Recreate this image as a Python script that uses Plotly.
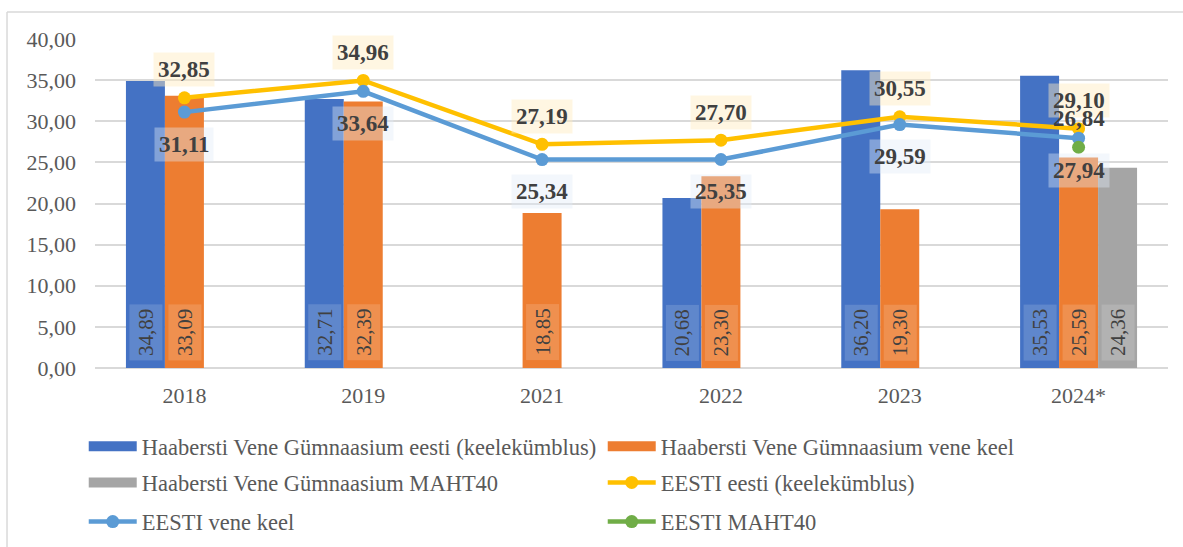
import plotly.graph_objects as go

categories = ["2018", "2019", "2021", "2022", "2023", "2024*"]
hvg_eesti = [34.89, 32.71, None, 20.68, 36.20, 35.53]
hvg_vene = [33.09, 32.39, 18.85, 23.30, 19.30, 25.59]
hvg_maht40 = [None, None, None, None, None, 24.36]
eesti_eesti = [32.85, 34.96, 27.19, 27.70, 30.55, 29.10]
eesti_vene = [31.11, 33.64, 25.34, 25.35, 29.59, 27.94]
eesti_maht40 = [None, None, None, None, None, 26.84]

names = [
    "Haabersti Vene Gümnaasium eesti (keelekümblus)",
    "Haabersti Vene Gümnaasium vene keel",
    "Haabersti Vene Gümnaasium MAHT40",
    "EESTI eesti (keelekümblus)",
    "EESTI vene keel",
    "EESTI MAHT40",
]

C_BLUE = "#4472C4"
C_ORANGE = "#ED7D31"
C_GRAY = "#A5A5A5"
C_YELLOW = "#FFC000"
C_LBLUE = "#5B9BD5"
C_GREEN = "#70AD47"

FONT = "Liberation Serif, Times New Roman, serif"
TXT = "#595959"
LBL = "#404040"


def fmt(v):
    return f"{v:.2f}".replace(".", ",")


fig = go.Figure()

bar_series = [
    (hvg_eesti, names[0], C_BLUE),
    (hvg_vene, names[1], C_ORANGE),
    (hvg_maht40, names[2], C_GRAY),
]
for vals, nm, col in bar_series:
    fig.add_trace(go.Bar(x=categories, y=vals, name=nm, marker=dict(color=col, line=dict(width=0)),
                         showlegend=False, hoverinfo="y"))

line_series = [
    (eesti_eesti, names[3], C_YELLOW),
    (eesti_vene, names[4], C_LBLUE),
    (eesti_maht40, names[5], C_GREEN),
]
for vals, nm, col in line_series:
    fig.add_trace(go.Scatter(x=categories, y=vals, name=nm, mode="lines+markers",
                             line=dict(color=col, width=4.5), marker=dict(color=col, size=13),
                             showlegend=False, cliponaxis=False))

# legend proxies (bars shown as wide rectangles, lines with a marker), one legend per row
legend_items = [
    (names[0], C_BLUE, "legend", False),
    (names[1], C_ORANGE, "legend", False),
    (names[2], C_GRAY, "legend2", False),
    (names[3], C_YELLOW, "legend2", True),
    (names[4], C_LBLUE, "legend3", True),
    (names[5], C_GREEN, "legend3", True),
]
for nm, col, lg, is_line in legend_items:
    if is_line:
        fig.add_trace(go.Scatter(x=[categories[0]], y=[None], name=nm, mode="lines+markers",
                                 line=dict(color=col, width=4.5), marker=dict(color=col, size=13),
                                 legend=lg, hoverinfo="skip"))
    else:
        fig.add_trace(go.Scatter(x=[categories[0]], y=[None], name=nm, mode="lines",
                                 line=dict(color=col, width=12), legend=lg, hoverinfo="skip"))

annotations = []
# bar value labels (rotated, at base of bars); x is the category index
for vals, shift in [(hvg_eesti, -39), (hvg_vene, 0), (hvg_maht40, 39)]:
    for i, v in enumerate(vals):
        if v is None:
            continue
        annotations.append(dict(x=i, y=0, xref="x", yref="y", text=fmt(v), showarrow=False,
                                textangle=-90, xshift=shift, yanchor="bottom", yshift=7,
                                font=dict(family=FONT, size=21, color=LBL),
                                bgcolor="rgba(255,255,255,0.15)", borderpad=4))

# line value labels
for vals, shift, bg in [(eesti_eesti, 28, "rgba(255,236,190,0.45)"),
                        (eesti_vene, -32, "rgba(225,234,248,0.4)"),
                        (eesti_maht40, 29, "rgba(0,0,0,0)")]:
    for i, v in enumerate(vals):
        if v is None:
            continue
        annotations.append(dict(x=i, y=v, xref="x", yref="y", text=f"<b>{fmt(v)}</b>", showarrow=False,
                                yshift=shift, font=dict(family=FONT, size=23, color=LBL),
                                bgcolor=bg, borderpad=4))

legend_common = dict(orientation="h", xanchor="left", yanchor="middle", entrywidth=456,
                     entrywidthmode="pixels", itemwidth=48, bgcolor="rgba(0,0,0,0)",
                     font=dict(family=FONT, size=22.5, color=TXT), itemclick=False,
                     itemdoubleclick=False)

fig.update_layout(
    width=1183, height=547,
    margin=dict(l=95, r=15, t=39, b=179, autoexpand=False),
    paper_bgcolor="white", plot_bgcolor="white",
    barmode="group", bargap=0.346, bargroupgap=0,
    separators=",.",
    font=dict(family=FONT, size=22, color=TXT),
    annotations=annotations,
    legend=dict(x=-0.0105, y=-0.239, **legend_common),
    legend2=dict(x=-0.0105, y=-0.349, **legend_common),
    legend3=dict(x=-0.0105, y=-0.468, **legend_common),
    shapes=[
        dict(type="line", xref="paper", yref="paper", x0=-0.082, x1=1.05, y0=1.082, y1=1.082,
             line=dict(color="#D9D9D9", width=1.5)),
        dict(type="line", xref="paper", yref="paper", x0=-0.082, x1=-0.082, y0=1.082, y1=-0.7,
             line=dict(color="#D9D9D9", width=1.5)),
    ],
)
fig.update_xaxes(type="category", categoryorder="array", categoryarray=categories,
                 range=[-0.5, len(categories) - 0.5],
                 showgrid=False, showline=False, zeroline=False, ticks="",
                 ticklabelstandoff=12, tickfont=dict(family=FONT, size=22, color=TXT))
fig.update_yaxes(range=[0, 40], dtick=5, tickformat=".2f", showgrid=True, gridcolor="#D9D9D9",
                 gridwidth=1.5, zeroline=True, zerolinecolor="#D9D9D9", zerolinewidth=1.5,
                 showline=False, ticks="", ticklabelstandoff=18,
                 tickfont=dict(family=FONT, size=22, color=TXT))

fig.write_html("out.html", config={"displayModeBar": False},
               post_script="document.body.style.margin='0';")
